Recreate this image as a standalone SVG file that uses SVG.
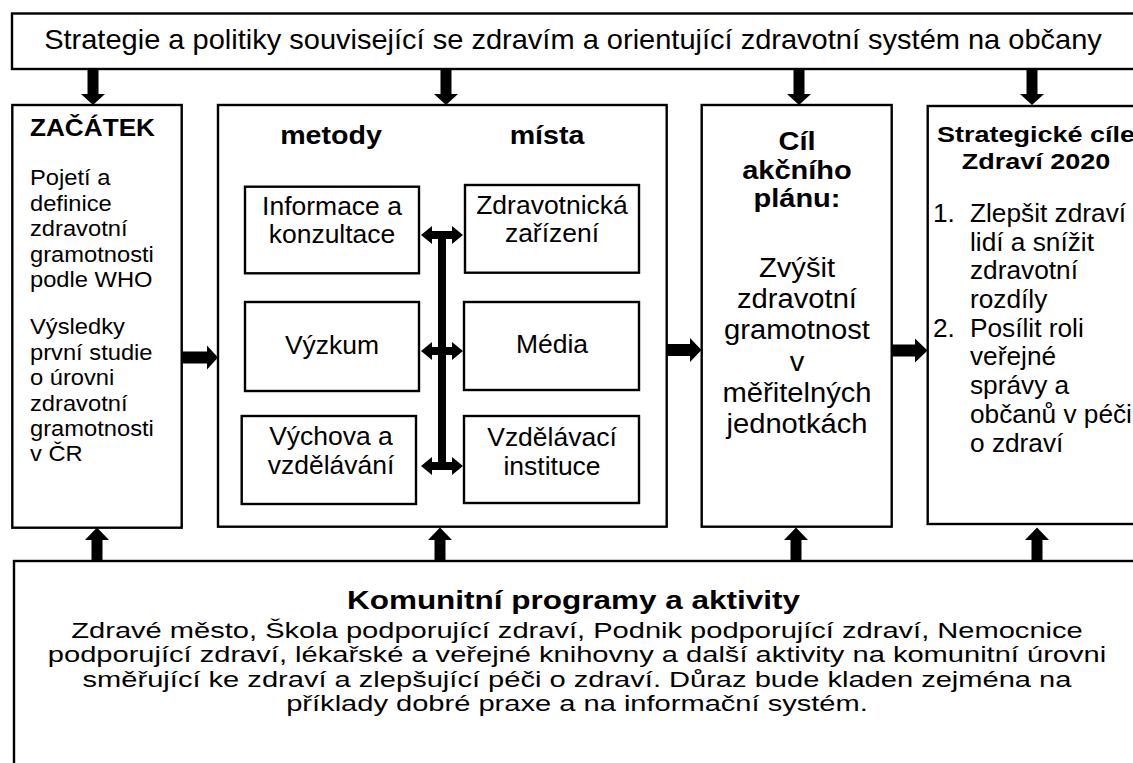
<svg xmlns="http://www.w3.org/2000/svg" width="1133" height="763" viewBox="0 0 1133 763">
<style>
.box{fill:#fff;stroke:#000;stroke-width:2.4}
.t{font-family:"Liberation Sans",Arial,Helvetica,sans-serif;fill:#000}
.b{font-weight:bold}
.c{text-anchor:middle}
.arr{fill:#000;stroke:none}
</style>
<rect x="0" y="0" width="1133" height="763" fill="#fff"/>

<g id="top">
<rect class="box" x="12" y="13.5" width="1140" height="55.5"/>
<g transform="translate(573,0) scale(1.075,1)"><text class="t c" x="0" y="49.5" font-size="27">Strategie a politiky související se zdravím a orientující zdravotní systém na občany</text></g>
</g>

<g id="zacatek">
<rect class="box" x="12.3" y="105" width="169.4" height="422.7"/>
<g transform="translate(30,0) scale(1.1,1)"><text class="t b" x="0" y="136" font-size="23.8">ZAČÁTEK</text></g>
<g transform="translate(30,0) scale(1.04,1)" class="t" font-size="22.8">
<text x="0" y="185.5">Pojetí a</text>
<text x="0" y="210.9">definice</text>
<text x="0" y="236.3">zdravotní</text>
<text x="0" y="261.7">gramotnosti</text>
<text x="0" y="287.1">podle WHO</text>
<text x="0" y="334.5">Výsledky</text>
<text x="0" y="359.9">první studie</text>
<text x="0" y="385.3">o úrovni</text>
<text x="0" y="410.7">zdravotní</text>
<text x="0" y="436.1">gramotnosti</text>
<text x="0" y="461.5">v ČR</text>
</g>
</g>

<g id="stred">
<rect class="box" x="218" y="105" width="448.7" height="421.7"/>
<g transform="translate(331,0) scale(1.1,1)"><text class="t b c" x="0" y="144.5" font-size="26">metody</text></g>
<g transform="translate(547,0) scale(1.1,1)"><text class="t b c" x="0" y="144.5" font-size="26">místa</text></g>
</g>

<g id="informace">
<rect class="box" x="245" y="186.7" width="174" height="86.6"/>
<g transform="translate(332,0) scale(1.06,1)" class="t c" font-size="25">
<text x="0" y="215">Informace a</text>
<text x="0" y="243.5">konzultace</text>
</g>
</g>

<g id="vyzkum">
<rect class="box" x="245" y="302" width="174" height="89"/>
<g transform="translate(332,0) scale(1.06,1)"><text class="t c" x="0" y="354" font-size="25">Výzkum</text></g>
</g>

<g id="vychova">
<rect class="box" x="241.7" y="416" width="174.3" height="88"/>
<g transform="translate(331,0) scale(1.06,1)" class="t c" font-size="25">
<text x="0" y="445">Výchova a</text>
<text x="0" y="474">vzdělávání</text>
</g>
</g>

<g id="zarizeni">
<rect class="box" x="465" y="185" width="174" height="87.7"/>
<g transform="translate(552,0) scale(1.06,1)" class="t c" font-size="25">
<text x="0" y="214">Zdravotnická</text>
<text x="0" y="242.5">zařízení</text>
</g>
</g>

<g id="media">
<rect class="box" x="464" y="302" width="175" height="88"/>
<g transform="translate(552,0) scale(1.06,1)"><text class="t c" x="0" y="353.5" font-size="25">Média</text></g>
</g>

<g id="instituce">
<rect class="box" x="464" y="416" width="175" height="87"/>
<g transform="translate(552,0) scale(1.06,1)" class="t c" font-size="25">
<text x="0" y="446">Vzdělávací</text>
<text x="0" y="475">instituce</text>
</g>
</g>

<g id="cil">
<rect class="box" x="701.7" y="105" width="190" height="421.7"/>
<g transform="translate(797,0) scale(1.16,1)" class="t b c" font-size="25">
<text x="0" y="150">Cíl</text>
<text x="0" y="179.5">akčního</text>
<text x="0" y="207">plánu:</text>
</g>
<g transform="translate(797,0) scale(1.08,1)" class="t c" font-size="27">
<text x="0" y="276.7">Zvýšit</text>
<text x="0" y="308">zdravotní</text>
<text x="0" y="339.3">gramotnost</text>
<text x="0" y="370.6">v</text>
<text x="0" y="401.9">měřitelných</text>
<text x="0" y="433.2">jednotkách</text>
</g>
</g>

<g id="strategicke">
<rect class="box" x="927.7" y="106" width="220" height="418"/>
<g transform="translate(1036,0) scale(1.2,1)" class="t b c" font-size="22.5">
<text x="0" y="142">Strategické cíle</text>
<text x="0" y="169.5">Zdraví 2020</text>
</g>
<g transform="translate(933,0) scale(1.05,1)" class="t" font-size="25">
<text x="0" y="222">1.</text>
<text x="0" y="336.8">2.</text>
</g>
<g transform="translate(970,0) scale(1.05,1)" class="t" font-size="25">
<text x="0" y="222">Zlepšit zdraví</text>
<text x="0" y="250.7">lidí a snížit</text>
<text x="0" y="279.4">zdravotní</text>
<text x="0" y="308.1">rozdíly</text>
<text x="0" y="336.8">Posílit roli</text>
<text x="0" y="365.5">veřejné</text>
<text x="0" y="394.2">správy a</text>
<text x="0" y="422.9">občanů v péči</text>
<text x="0" y="451.6">o zdraví</text>
</g>
</g>

<g id="komunitni">
<rect class="box" x="14" y="561" width="1140" height="220"/>
<g transform="translate(573.5,0) scale(1.25,1)"><text class="t b c" x="0" y="609" font-size="25.2">Komunitní programy a aktivity</text></g>
<g transform="translate(577,0) scale(1.31,1)" class="t c" font-size="22.2">
<text x="0" y="638">Zdravé město, Škola podporující zdraví, Podnik podporující zdraví, Nemocnice</text>
<text x="0" y="662.5">podporující zdraví, lékařské a veřejné knihovny a další aktivity na komunitní úrovni</text>
<text x="0" y="687">směřující ke zdraví a zlepšující péči o zdraví. Důraz bude kladen zejména na</text>
<text x="0" y="711.5">příklady dobré praxe a na informační systém.</text>
</g>
</g>

<g id="connectors">
<polygon class="arr" points="87.5,69 98.5,69 98.5,94 105,94 93,105 81,94 87.5,94"/>
<polygon class="arr" points="440.5,69 451.5,69 451.5,94 458,94 446,105 434,94 440.5,94"/>
<polygon class="arr" points="793.5,69 804.5,69 804.5,94 811,94 799,105 787,94 793.5,94"/>
<polygon class="arr" points="1026.5,69 1037.5,69 1037.5,94 1044,94 1032,105 1020,94 1026.5,94"/>

<polygon class="arr" points="182,351.5 207,351.5 207,345.5 218,357.5 207,369.5 207,363.5 182,363.5"/>
<polygon class="arr" points="667,344 690,344 690,338 701.5,350 690,362 690,356 667,356"/>
<polygon class="arr" points="892,344.5 915,344.5 915,338.5 927.5,350.5 915,362.5 915,356.5 892,356.5"/>

<polygon class="arr" points="97,527.5 109,540 102.5,540 102.5,562 91.5,562 91.5,540 85,540"/>
<polygon class="arr" points="440,527.5 452,540 445.5,540 445.5,562 434.5,562 434.5,540 428,540"/>
<polygon class="arr" points="796,527.5 808,540 801.5,540 801.5,562 790.5,562 790.5,540 784,540"/>
<polygon class="arr" points="1037,527.5 1049,540 1042.5,540 1042.5,562 1031.5,562 1031.5,540 1025,540"/>

<rect class="arr" x="438" y="233" width="8" height="236"/>
<polygon class="arr" points="421,235 432,226 432,231 452,231 452,226 463,235 452,244 452,239 432,239 432,244"/>
<polygon class="arr" points="421,351 432,342 432,347 452,347 452,342 463,351 452,360 452,355 432,355 432,360"/>
<polygon class="arr" points="421,466 432,457 432,462 452,462 452,457 463,466 452,475 452,470 432,470 432,475"/>
</g>
</svg>
